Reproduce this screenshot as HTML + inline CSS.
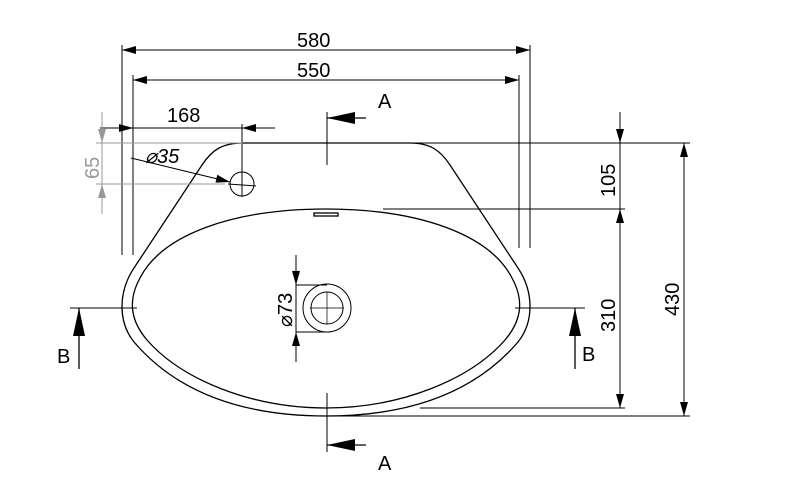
<!DOCTYPE html>
<html><head><meta charset="utf-8"><style>
body{margin:0;background:#fff}
svg{display:block}
text{font-family:"Liberation Sans",sans-serif;fill:#000}
</style></head><body>
<svg width="790" height="483" viewBox="0 0 790 483" xmlns="http://www.w3.org/2000/svg">
<g stroke="#000" stroke-width="1.3" fill="none">
<path d="M243 143 L410 143 C430 143 440 150 450 165 L518 268 C534 292 534 322 518 342 C470 398 400 416 326 416 C252 416 182 398 134 342 C118 322 118 292 134 268 L202 165 C212 150 222 143 243 143 Z"/>
<path d="M326 209 C420 209 490 235 512 278 C524 300 522 320 505 340 C470 380 400 408 326 408 C252 408 182 380 147 340 C130 320 128 300 140 278 C162 235 232 209 326 209 Z"/>
<rect x="314" y="213" width="24" height="3" />
</g>
<g stroke="#000" stroke-width="1" fill="none">
<line x1="122" y1="45" x2="122" y2="255"/><line x1="133" y1="75" x2="133" y2="255"/>
<line x1="519" y1="75" x2="519" y2="248"/><line x1="530" y1="45" x2="530" y2="248"/>
<line x1="122" y1="50" x2="530" y2="50"/>
<line x1="133" y1="80" x2="519" y2="80"/>
<line x1="100" y1="128" x2="275" y2="128"/>
<line x1="242" y1="124" x2="242" y2="197"/>
<circle cx="242" cy="184" r="12"/>
<line x1="228" y1="184" x2="256" y2="186"/>
<line x1="131" y1="158" x2="230" y2="182"/>
<line x1="410" y1="143" x2="690" y2="143"/>
<line x1="383" y1="209" x2="625" y2="209"/>
<line x1="326" y1="416" x2="690" y2="416"/>
<line x1="420" y1="408" x2="625" y2="408"/>
<line x1="620" y1="112" x2="620" y2="408"/>
<line x1="684" y1="143" x2="684" y2="416"/>
<circle cx="327" cy="308" r="24"/><circle cx="327" cy="308" r="16"/>
<line x1="310" y1="308" x2="344" y2="308" stroke-width="0.7"/><line x1="327" y1="292" x2="327" y2="324" stroke-width="0.7"/>
<line x1="296" y1="285" x2="327" y2="285"/><line x1="296" y1="332" x2="327" y2="332"/>
<line x1="296" y1="255" x2="296" y2="362"/>
<line x1="327" y1="112" x2="327" y2="165"/>
<line x1="366" y1="118" x2="327" y2="118" stroke-width="1.3"/>
<line x1="327" y1="393" x2="327" y2="452"/>
<line x1="366" y1="445" x2="327" y2="445" stroke-width="1.3"/>
<line x1="70" y1="308" x2="137" y2="308"/>
<line x1="79" y1="369" x2="79" y2="308" stroke-width="1.3"/>
<line x1="515" y1="308" x2="585" y2="308"/>
<line x1="575" y1="369" x2="575" y2="308" stroke-width="1.3"/>
</g>
<g fill="#000" stroke="none">
<polygon points="122,50 136,46 136,54"/><polygon points="530,50 516,46 516,54"/>
<polygon points="133,80 147,76 147,84"/><polygon points="519,80 505,76 505,84"/>
<polygon points="133,128 119,124 119,132"/><polygon points="242,128 256,124 256,132"/>
<polygon points="230,182 215.5,182.6 217.3,174.8"/>
<polygon points="620,143 616,129 624,129"/><polygon points="620,209 616,223 624,223"/>
<polygon points="620,408 616,394 624,394"/>
<polygon points="684,143 680,157 688,157"/><polygon points="684,416 680,402 688,402"/>
<polygon points="296,285 292,271 300,271"/><polygon points="296,332 292,346 300,346"/>
<polygon points="327,118 355,112 355,124"/><polygon points="327,445 355,439 355,451"/>
<polygon points="79,308 73,336 85,336"/><polygon points="575,308 569,336 581,336"/>
</g>
<g stroke="#999" stroke-width="1" fill="none">
<line x1="96" y1="143" x2="243" y2="143"/>
<line x1="96" y1="184" x2="225" y2="184"/>
<line x1="102" y1="112" x2="102" y2="214"/>
</g>
<g fill="#999"><polygon points="102,143 98,129 106,129"/><polygon points="102,184 98,198 106,198"/></g>
<g font-size="20">
<text x="297" y="47">580</text>
<text x="297" y="77">550</text>
<text x="167" y="122">168</text>
<text x="145" y="163" font-style="italic">⌀35</text>
<text x="378" y="108">A</text>
<text x="378" y="470">A</text>
<text x="57" y="363">B</text>
<text x="582" y="361">B</text>
<text transform="translate(99,179) rotate(-90)" style="fill:#999">65</text>
<text transform="translate(615,197) rotate(-90)">105</text>
<text transform="translate(615,332) rotate(-90)">310</text>
<text transform="translate(679,316) rotate(-90)">430</text>
<text transform="translate(292,327) rotate(-90)">⌀73</text>
</g>
</svg>
</body></html>
